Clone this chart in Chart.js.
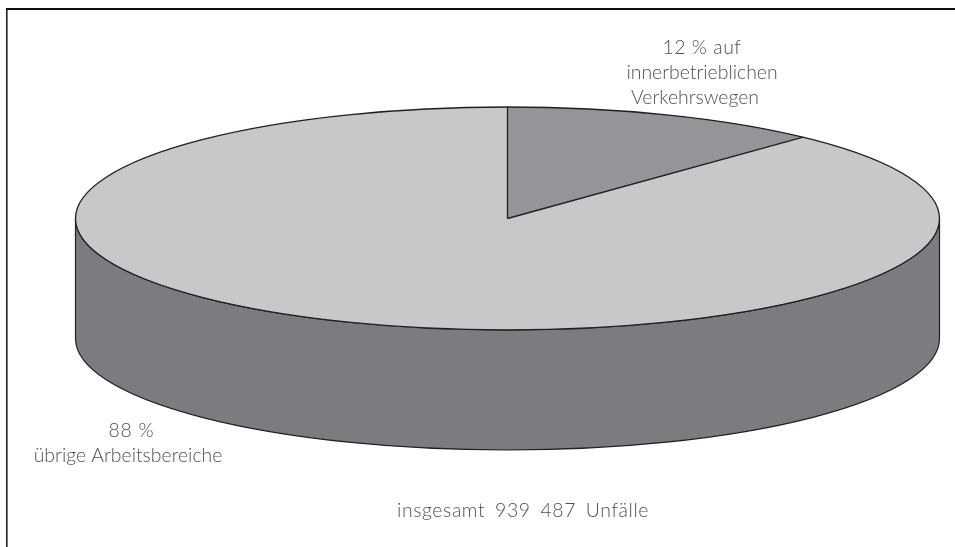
<!DOCTYPE html>
<html><head><meta charset="utf-8">
<style>html,body{margin:0;padding:0;background:#fff;overflow:hidden}#w{position:relative;width:955px;height:547px}canvas{display:block}</style>
<script src="https://cdn.jsdelivr.net/npm/chart.js@4"></script>
</head><body><div id="w"><canvas id="c" width="955" height="547"></canvas></div>
<script>
const categories = ["auf innerbetrieblichen Verkehrswegen", "übrige Arbeitsbereiche"];
const shareValues = [12, 88];
const sliceColors = ["#939598", "#c7c8ca"];
const sideColor = "#7b7c7f";
const lineColor = "#231f20";
const textColor = "#4f5052";
const labelLines = [
  {text:"12 % auf", x:702, y:48, ls:0.5, ws:0},
  {text:"innerbetrieblichen", x:702, y:73, ls:0, ws:0},
  {text:"Verkehrswegen", x:695, y:98, ls:0, ws:0},
  {text:"88 %", x:131.5, y:431, ls:0.8, ws:0},
  {text:"übrige Arbeitsbereiche", x:128, y:456, ls:0, ws:0},
  {text:"insgesamt 939 487 Unfälle", x:523, y:511, ls:0.6, ws:4}
];
const CX=507.5, CY=218.5, RX=432, RY=111.5, DEPTH=120;

const tilt = {
  id:'tilt',
  beforeDatasetsDraw(chart){
    const g=chart.ctx, arc=chart.getDatasetMeta(0).data[0], r=arc.outerRadius;
    g.save();
    g.strokeStyle="#2a2a2a"; g.lineWidth=1.7;
    g.beginPath(); g.moveTo(6.8,547); g.lineTo(6.8,9); g.stroke();
    g.strokeStyle="#111"; g.lineWidth=2;
    g.beginPath(); g.moveTo(6,9); g.lineTo(955,9); g.stroke();
    g.beginPath();
    g.moveTo(CX-RX,CY);
    g.lineTo(CX-RX,CY+DEPTH);
    g.ellipse(CX,CY+DEPTH,RX,RY,0,Math.PI,0,true);
    g.lineTo(CX+RX,CY);
    g.ellipse(CX,CY,RX,RY,0,0,Math.PI,false);
    g.closePath();
    g.fillStyle=sideColor; g.fill();
    g.strokeStyle=lineColor; g.lineWidth=1.2; g.stroke();
    g.restore();
    g.save();
    g.translate(CX,CY);
    g.scale(RX/r,RY/r);
    g.translate(-arc.x,-arc.y);
  },
  afterDatasetsDraw(chart){
    const g=chart.ctx;
    g.restore();
    g.save();
    g.strokeStyle=lineColor; g.lineWidth=1.3;
    const meta=chart.getDatasetMeta(0);
    g.beginPath(); g.ellipse(CX,CY,RX,RY,0,0,Math.PI*2); g.stroke();
    const a=meta.data[0];
    [a.startAngle,a.endAngle].forEach(t=>{
      g.beginPath(); g.moveTo(CX,CY);
      g.lineTo(CX+RX*Math.cos(t),CY+RY*Math.sin(t)); g.stroke();
    });
    g.fillStyle=textColor;
    g.font='300 19.4px "Lato","Open Sans",sans-serif';
    g.textAlign='center'; g.textBaseline='middle';
    labelLines.forEach(l=>{
      g.letterSpacing=l.ls+'px'; g.wordSpacing=l.ws+'px';
      g.fillText(l.text,l.x,l.y);
    });
    g.restore();
  }
};

new Chart(document.getElementById('c'),{
  type:'pie',
  data:{labels:categories,datasets:[{data:shareValues,backgroundColor:sliceColors,borderWidth:0}]},
  options:{
    responsive:false,animation:false,
    layout:{padding:0},
    plugins:{legend:{display:false},tooltip:{enabled:false}},
    rotation:0
  },
  plugins:[tilt]
});
</script></body></html>
